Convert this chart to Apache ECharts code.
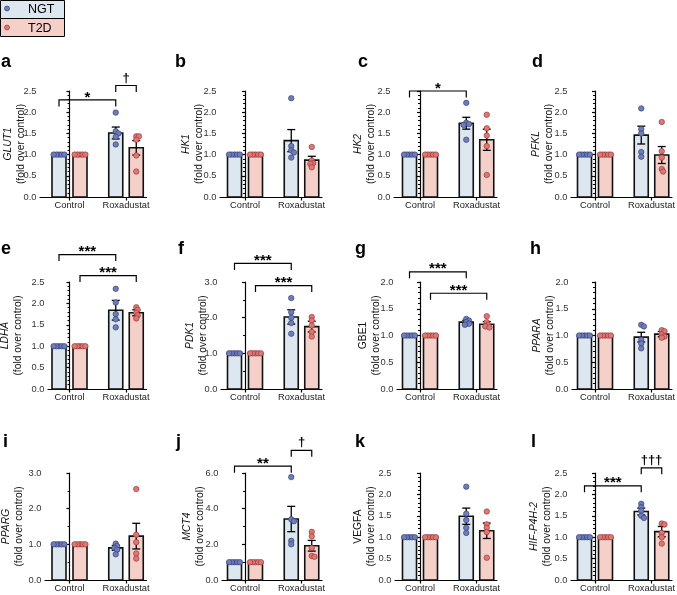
<!DOCTYPE html>
<html><head><meta charset="utf-8">
<script src="https://cdn.jsdelivr.net/npm/echarts@6/dist/echarts.min.js"></script>
<style>html,body{margin:0;padding:0;background:#fff}#c{width:677px;height:595px}</style>
</head><body><div id="c"></div>
<script>
// ---------------- data ----------------
const categories = ['Control', 'Roxadustat'];
const groupNames = ['NGT', 'T2D'];
const panelLetters = ['a','b','c','d','e','f','g','h','i','j','k','l'];
const genes = ['GLUT1','HK1','HK2','PFKL','LDHA','PDK1','GBE1','PPARA','PPARG','MCT4','VEGFA','HIF-P4H-2'];
const geneItalic = [true,true,true,true,true,true,false,true,true,true,false,true];
const yMax  = [2.5,2.5,2.5,2.5,2.5,3,2,2,3,6,2.5,2.5];
const yStep = [0.5,0.5,0.5,0.5,0.5,1,0.5,0.5,1,2,0.5,0.5];

const controlMean = 1.0;
const controlSEM = 0;
const controlPoints = [1,1,1,1,1];

const ngtRoxaMean = [1.51,1.33,1.74,1.46,1.84,2.02,1.25,0.97,0.90,3.42,1.49,1.60];
const ngtRoxaSEM  = [0.14,0.26,0.14,0.21,0.23,0.20,0.035,0.09,0.07,0.71,0.19,0.08];
const t2dRoxaMean = [1.16,0.87,1.35,0.99,1.78,1.75,1.21,1.025,1.23,1.92,1.15,1.13];
const t2dRoxaSEM  = [0.17,0.09,0.25,0.20,0.07,0.15,0.05,0.05,0.36,0.30,0.18,0.12];

const ngtRoxaPoints = [
  [1.99,1.55,1.50,1.42,1.24],
  [2.33,1.20,1.10,1.05,0.93],
  [2.22,1.75,1.72,1.70,1.35],
  [2.09,1.60,1.50,1.06,0.95],
  [2.34,2.02,1.75,1.63,1.44],
  [2.55,2.15,2.00,1.85,1.55],
  [1.31,1.28,1.25,1.22,1.20],
  [1.20,1.17,0.92,0.85,0.76],
  [1.02,0.95,0.90,0.85,0.72],
  [5.77,3.40,3.30,2.20,2.00],
  [2.18,1.55,1.40,1.22,1.10],
  [1.78,1.70,1.62,1.50,1.45]
];
const t2dRoxaPoints = [
  [1.43,1.43,1.35,0.98,0.60],
  [1.18,0.86,0.80,0.78,0.70],
  [1.94,1.62,1.45,1.20,0.52],
  [1.77,1.08,0.93,0.66,0.60],
  [1.91,1.85,1.78,1.72,1.65],
  [2.02,1.92,1.78,1.60,1.47],
  [1.36,1.25,1.20,1.17,1.15],
  [1.10,1.08,1.02,0.98,0.96],
  [2.55,1.27,1.06,0.74,0.60],
  [2.70,2.45,1.80,1.35,1.30],
  [1.60,1.30,1.22,1.12,0.52],
  [1.32,1.30,1.10,1.00,0.85]
];

// significance brackets: panel, from bar, to bar (0 NGT-Ctrl,1 T2D-Ctrl,2 NGT-Roxa,3 T2D-Roxa), level, label
const bracketPanel = [0,0,2,4,4,5,5,6,6,9,9,11,11];
const bracketFrom  = [0,2,0,0,1,0,1,0,1,0,2,0,2];
const bracketTo    = [2,3,2,2,3,2,3,2,3,2,3,2,3];
const bracketLevel = [2.29,2.63,2.5,3.14,2.65,3.52,2.9,2.19,1.79,6.38,7.27,2.2,2.62];
const bracketLabel = ['*','†','*','***','***','***','***','***','***','**','†','***','†††'];

// ---------------- layout / style ----------------
const FONT = 'Liberation Sans, Arial, sans-serif';
const NARROW = 'Liberation Sans Narrow, Arial Narrow, Liberation Sans, sans-serif';
const ngtFill = '#dde7ef', t2dFill = '#f5d0c9';
const ngtDot = '#6d7db8', t2dDot = '#e07673';
const ngtDotEdge = '#2f3870', t2dDotEdge = '#8a3030';
const colTick = [69.5, 245, 420, 595];
const roxaOffset = 56.5;
const barOffsets = [-10.5, 10.5, 46.25, 66.75];
const halfBar = 7;
const axisXs = [40,220,394,571, 48,221,397,572, 45,222,395,571];
const rowTop = [91, 282, 473], rowBottom = [197, 389, 580];
const titleCenter = [15,193,365,543, 12,197,370,544, 12.5,194,365,541];
const letterX = [1,175,358,532, 1,178,355,530, 3,176,355,531];
const letterBase = [71, 258, 451];

function jitter(values, pxPerUnit) {
  const placed = [];
  const out = [];
  const step = 1.35, minD = 2.7;
  values.forEach(v => {
    const py = v * pxPerUnit;
    let chosen = 0;
    for (let k = 0; k < 40; k++) {
      const m = k === 0 ? 0 : (k % 2 === 1 ? (k + 1) / 2 : -k / 2);
      const ox = m * step;
      let ok = true;
      for (const p of placed) {
        const dx = p[0] - ox, dy = p[1] - py;
        if (Math.sqrt(dx*dx + dy*dy) < minD) { ok = false; break; }
      }
      if (ok) { chosen = ox; break; }
    }
    placed.push([chosen, py]);
    out.push(chosen);
  });
  return out;
}

const grids = [], xAxes = [], yAxes = [], series = [], graphics = [];

for (let p = 0; p < 12; p++) {
  const col = p % 4, row = Math.floor(p / 4);
  const tick = colTick[col];
  const ax = axisXs[p];
  const xMin = ax - tick;
  const xMax = 77;
  const top = rowTop[row], h = rowBottom[row] - rowTop[row];
  grids.push({ left: ax, top: top, width: xMax - xMin, height: h, outerBoundsMode: 'none', containLabel: false });
  xAxes.push({
    gridIndex: p, type: 'value', min: xMin, max: xMax,
    axisLine: { show: true, onZero: false, lineStyle: { color: '#000', width: 1.2 } },
    axisTick: { show: true, length: 3.5, customValues: [0, roxaOffset], lineStyle: { color: '#000', width: 1.2 } },
    axisLabel: { show: true, customValues: [0, roxaOffset], margin: 4, fontSize: 9.3, color: '#222', fontFamily: FONT,
      formatter: v => (v < roxaOffset / 2 ? categories[0] : categories[1]) },
    splitLine: { show: false }
  });
  const gname = genes[p];
  yAxes.push({
    gridIndex: p, type: 'value', min: 0, max: yMax[p], interval: yStep[p],
    axisLine: { show: true, lineStyle: { color: '#000', width: 1.2 } },
    axisTick: { show: true, length: 3, lineStyle: { color: '#000', width: 1.2 } },
    minorTick: { show: true, splitNumber: yStep[p] === 0.5 ? 5 : 2, length: 2, lineStyle: { color: '#000', width: 1 } },
    axisLabel: { fontSize: 9.3, color: '#333', margin: 3.5, fontFamily: NARROW, formatter: v => v.toFixed(1) },
    splitLine: { show: false },
    name: '{g|' + gname + '}\n{f|(fold over control)}',
    nameLocation: 'middle', nameRotate: 90, nameMoveOverlap: false,
    nameGap: ax - (titleCenter[p] + 13),
    nameTextStyle: {
      fontFamily: FONT, align: 'center',
      rich: {
        g: { fontSize: 10.3, fontStyle: geneItalic[p] ? 'italic' : 'normal', lineHeight: 13, color: '#111', fontFamily: FONT, align: 'center' },
        f: { fontSize: 10.3, lineHeight: 13, color: '#111', fontFamily: FONT, align: 'center' }
      }
    }
  });

  const means = [controlMean, controlMean, ngtRoxaMean[p], t2dRoxaMean[p]];
  const sems = [controlSEM, controlSEM, ngtRoxaSEM[p], t2dRoxaSEM[p]];
  const fills = [ngtFill, t2dFill, ngtFill, t2dFill];

  series.push({
    type: 'custom', xAxisIndex: p, yAxisIndex: p, z: 2, silent: true,
    data: means.map((m, i) => [barOffsets[i], m, i]),
    renderItem: (params, api) => {
      const x = api.value(0), y = api.value(1), gi = api.value(2);
      const a = api.coord([x - halfBar, 0]), b = api.coord([x + halfBar, y]);
      return { type: 'rect', shape: { x: a[0], y: b[1], width: b[0] - a[0], height: a[1] - b[1] },
        style: { fill: fills[gi], stroke: '#111', lineWidth: 1.6 } };
    }
  });
  series.push({
    type: 'custom', xAxisIndex: p, yAxisIndex: p, z: 3, silent: true,
    data: means.map((m, i) => [barOffsets[i], m, sems[i]]),
    renderItem: (params, api) => {
      const x = api.value(0), m = api.value(1), s = api.value(2);
      if (!s) return null;
      const t = api.coord([x, m + s]), b = api.coord([x, m - s]);
      const cw = 4;
      return { type: 'group', children: [
        { type: 'line', shape: { x1: t[0], y1: t[1], x2: b[0], y2: b[1] }, style: { stroke: '#000', lineWidth: 1.3 } },
        { type: 'line', shape: { x1: t[0] - cw, y1: t[1], x2: t[0] + cw, y2: t[1] }, style: { stroke: '#000', lineWidth: 1.3 } },
        { type: 'line', shape: { x1: b[0] - cw, y1: b[1], x2: b[0] + cw, y2: b[1] }, style: { stroke: '#000', lineWidth: 1.3 } }
      ]};
    }
  });
  const pxPerUnit = h / yMax[p];
  const groupsPts = [controlPoints, controlPoints, ngtRoxaPoints[p], t2dRoxaPoints[p]];
  [0, 1].forEach(g => {
    const data = [];
    [g, g + 2].forEach(bi => {
      const vals = groupsPts[bi];
      const jit = jitter(vals, pxPerUnit);
      vals.forEach((v, k) => data.push([barOffsets[bi] + jit[k], v]));
    });
    series.push({
      type: 'scatter', name: groupNames[g], xAxisIndex: p, yAxisIndex: p, z: 4, silent: true,
      symbol: 'circle', symbolSize: 5.5,
      itemStyle: { color: g === 0 ? ngtDot : t2dDot, borderColor: g === 0 ? ngtDotEdge : t2dDotEdge, borderWidth: 0.6, opacity: 1 },
      data: data
    });
  });
  const bIdx = [];
  bracketPanel.forEach((bp, k) => { if (bp === p) bIdx.push(k); });
  if (bIdx.length) {
    series.push({
      type: 'custom', xAxisIndex: p, yAxisIndex: p, z: 5, silent: true, clip: false,
      data: bIdx.map(k => [barOffsets[bracketFrom[k]], barOffsets[bracketTo[k]], bracketLevel[k], k]),
      renderItem: (params, api) => {
        const x1 = api.value(0), x2 = api.value(1), lv = api.value(2), k = api.value(3);
        const a = api.coord([x1, lv]), b = api.coord([x2, lv]);
        const leg = 6.5;
        const lab = bracketLabel[k];
        const isDagger = lab.indexOf('†') >= 0;
        return { type: 'group', children: [
          { type: 'polyline', shape: { points: [[a[0], a[1] + leg], [a[0], a[1]], [b[0], b[1]], [b[0], b[1] + leg]] },
            style: { stroke: '#000', lineWidth: 1.2, fill: null } },
          { type: 'text', x: (a[0] + b[0]) / 2, y: a[1] - (isDagger ? 7.5 : 2.5),
            style: { text: lab, font: 'bold ' + (isDagger ? 13 : 15) + 'px ' + FONT, fill: '#000',
              align: 'center', verticalAlign: 'middle', textAlign: 'center', textVerticalAlign: 'middle' } }
        ]};
      }
    });
  }
  graphics.push({ type: 'text', x: letterX[p], y: letterBase[row], silent: true,
    style: { text: panelLetters[p], font: 'bold 18px ' + FONT, fill: '#000', verticalAlign: 'bottom', textVerticalAlign: 'bottom' } });
}

// legend box
graphics.push(
  { type: 'rect', shape: { x: 0.5, y: 0.5, width: 64, height: 18 }, style: { fill: ngtFill, stroke: '#000', lineWidth: 1 } },
  { type: 'rect', shape: { x: 0.5, y: 18.5, width: 64, height: 18 }, style: { fill: t2dFill, stroke: '#000', lineWidth: 1 } },
  { type: 'circle', shape: { cx: 7, cy: 8.5, r: 2.5 }, style: { fill: ngtDot, stroke: ngtDotEdge, lineWidth: 0.6 } },
  { type: 'circle', shape: { cx: 7, cy: 27.5, r: 2.5 }, style: { fill: t2dDot, stroke: t2dDotEdge, lineWidth: 0.6 } },
  { type: 'text', x: 28, y: 9.5, style: { text: groupNames[0], font: '12.5px ' + FONT, fill: '#000', verticalAlign: 'middle', textVerticalAlign: 'middle' } },
  { type: 'text', x: 28, y: 28.5, style: { text: groupNames[1], font: '12.5px ' + FONT, fill: '#000', verticalAlign: 'middle', textVerticalAlign: 'middle' } }
);

const chart = echarts.init(document.getElementById('c'), null, { renderer: 'canvas' });
chart.setOption({
  animation: false,
  backgroundColor: '#fff',
  textStyle: { fontFamily: FONT },
  grid: grids, xAxis: xAxes, yAxis: yAxes, series: series,
  graphic: graphics
});
</script>
</body></html>
